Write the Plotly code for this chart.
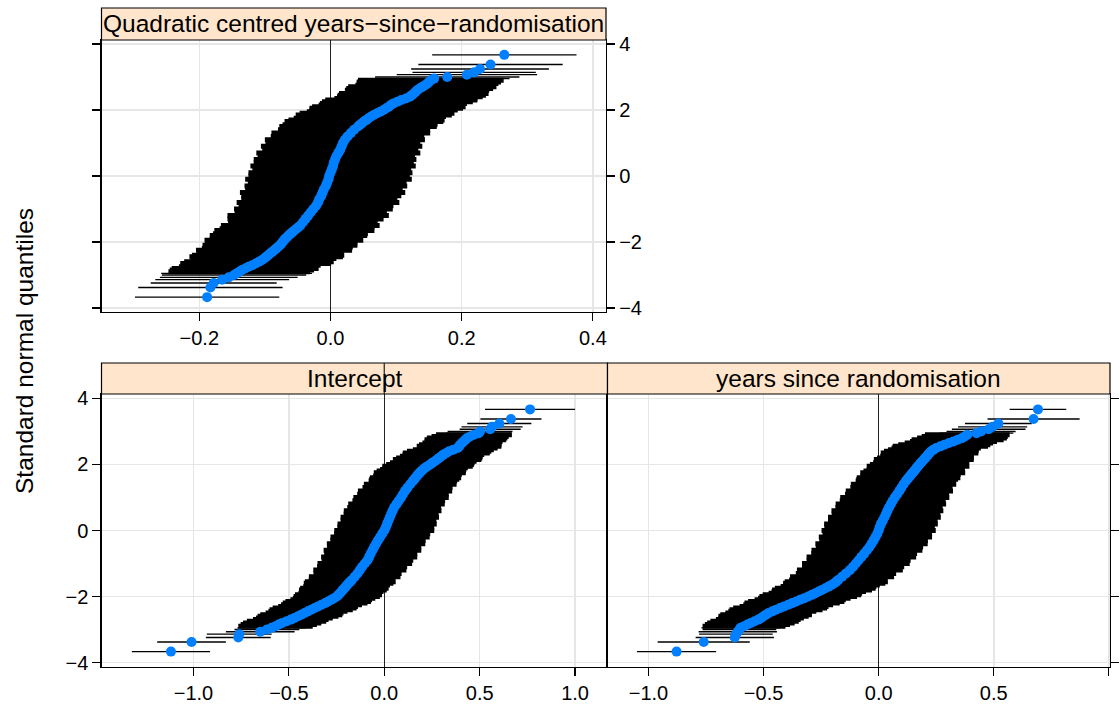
import plotly.graph_objects as go

W, H = 1120, 715

# ---------------- data ----------------
# standard normal quantiles (subsample of the ranked subjects, shared by all panels)
quantiles = [-3.67, -3.38, -3.24, -3.14, -3.07, -3.00, -2.95,
             -2.9, -2.8, -2.7, -2.6, -2.5, -2.4, -2.3, -2.2, -2.1, -2.0,
             -1.9, -1.8, -1.7, -1.6, -1.5, -1.4, -1.3, -1.2, -1.1, -1.0,
             -0.9, -0.8, -0.7, -0.6, -0.5, -0.4, -0.3, -0.2, -0.1, 0.0,
             0.1, 0.2, 0.3, 0.4, 0.5, 0.6, 0.7, 0.8, 0.9, 1.0,
             1.1, 1.2, 1.3, 1.4, 1.5, 1.6, 1.7, 1.8, 1.9, 2.0,
             2.1, 2.2, 2.3, 2.4, 2.5, 2.6, 2.7, 2.8, 2.9,
             2.95, 3.00, 3.07, 3.14, 3.24, 3.38, 3.67]
# further subjects in the flatter parts of the curves
quantiles_extra = [-2.85, -2.75, -2.65, -2.55, -2.45, -2.35, -2.25,
                   -2.15, -2.05, -1.95, -1.85, -1.75, -1.65, -1.55,
                   1.55, 1.65, 1.75, 1.85, 1.95, 2.05, 2.15,
                   2.25, 2.35, 2.45, 2.55, 2.65, 2.75, 2.85]

# Quadratic centred years-since-randomisation: conditional modes and interval half-widths
quad_x = [-0.188, -0.183, -0.178, -0.165, -0.155, -0.147, -0.143,
          -0.139, -0.130, -0.119, -0.109, -0.101, -0.095, -0.089, -0.083, -0.077, -0.073,
          -0.069, -0.064, -0.058, -0.052, -0.046, -0.042, -0.038, -0.034, -0.030, -0.026,
          -0.022, -0.019, -0.017, -0.014, -0.012, -0.010, -0.007, -0.005, -0.003, -0.002,
          0.000, 0.002, 0.004, 0.005, 0.007, 0.009, 0.012, 0.015, 0.017, 0.019,
          0.022, 0.026, 0.031, 0.036, 0.042, 0.048, 0.055, 0.062, 0.071, 0.081,
          0.089, 0.096, 0.108, 0.121, 0.127, 0.132, 0.140, 0.148, 0.153,
          0.158, 0.178, 0.208, 0.219, 0.228, 0.244, 0.265]
quad_half = [0.110, 0.110, 0.096, 0.102, 0.105, 0.110, 0.115,
             0.108, 0.112, 0.104, 0.114, 0.110, 0.116, 0.109, 0.113, 0.118, 0.111,
             0.115, 0.120, 0.113, 0.117, 0.121, 0.114, 0.119, 0.123, 0.116, 0.121,
             0.118, 0.124, 0.119, 0.122, 0.126, 0.120, 0.124, 0.121, 0.127, 0.123,
             0.125, 0.121, 0.126, 0.122, 0.124, 0.120, 0.125, 0.119, 0.123, 0.118,
             0.122, 0.117, 0.121, 0.116, 0.120, 0.115, 0.119, 0.114, 0.118, 0.113,
             0.117, 0.112, 0.116, 0.111, 0.114, 0.110, 0.113, 0.108, 0.111,
             0.115, 0.110, 0.107, 0.094, 0.105, 0.110, 0.110]
quad_x_extra = [-0.135, -0.125, -0.114, -0.105, -0.098, -0.092, -0.086,
                -0.080, -0.075, -0.071, -0.066, -0.061, -0.055, -0.049,
                0.045, 0.051, 0.058, 0.066, 0.076, 0.085, 0.092,
                0.102, 0.115, 0.124, 0.130, 0.136, 0.144, 0.150]
quad_half_extra = [0.110, 0.106, 0.115, 0.108, 0.117, 0.111, 0.119,
                   0.114, 0.116, 0.121, 0.113, 0.118, 0.122, 0.116,
                   0.118, 0.121, 0.114, 0.119, 0.112, 0.117, 0.110,
                   0.115, 0.109, 0.113, 0.107, 0.112, 0.106, 0.110]

# Intercept
int_x = [-1.118, -1.010, -0.765, -0.760, -0.650, -0.615, -0.590,
         -0.570, -0.535, -0.490, -0.452, -0.418, -0.383, -0.347, -0.310, -0.278, -0.249,
         -0.232, -0.217, -0.202, -0.187, -0.170, -0.155, -0.140, -0.128, -0.116, -0.102,
         -0.088, -0.079, -0.071, -0.062, -0.053, -0.043, -0.033, -0.022, -0.011, 0.000,
         0.008, 0.015, 0.022, 0.029, 0.036, 0.044, 0.052, 0.064, 0.076, 0.088,
         0.098, 0.109, 0.122, 0.136, 0.150, 0.164, 0.178, 0.194, 0.214, 0.240,
         0.265, 0.288, 0.310, 0.340, 0.385, 0.398, 0.416, 0.434, 0.470,
         0.495, 0.502, 0.555, 0.565, 0.603, 0.664, 0.764]
int_half = [0.205, 0.180, 0.170, 0.170, 0.180, 0.170, 0.180,
            0.195, 0.205, 0.198, 0.212, 0.204, 0.218, 0.209, 0.222, 0.214, 0.226,
            0.218, 0.230, 0.222, 0.235, 0.226, 0.240, 0.231, 0.244, 0.236, 0.248,
            0.240, 0.252, 0.244, 0.256, 0.247, 0.258, 0.250, 0.260, 0.252, 0.262,
            0.254, 0.260, 0.251, 0.258, 0.249, 0.256, 0.246, 0.253, 0.243, 0.250,
            0.240, 0.247, 0.236, 0.243, 0.232, 0.239, 0.228, 0.234, 0.224, 0.230,
            0.219, 0.226, 0.214, 0.221, 0.209, 0.216, 0.204, 0.211, 0.199,
            0.170, 0.170, 0.160, 0.160, 0.168, 0.160, 0.236]
int_x_extra = [-0.553, -0.512, -0.471, -0.435, -0.400, -0.365, -0.329,
               -0.294, -0.263, -0.240, -0.224, -0.209, -0.195, -0.178,
               0.157, 0.171, 0.186, 0.204, 0.227, 0.252, 0.277,
               0.299, 0.325, 0.362, 0.392, 0.407, 0.425, 0.450]
int_half_extra = [0.200, 0.208, 0.201, 0.215, 0.207, 0.220, 0.212,
                  0.224, 0.216, 0.228, 0.220, 0.232, 0.225, 0.238,
                  0.236, 0.229, 0.241, 0.226, 0.237, 0.222, 0.232,
                  0.217, 0.228, 0.212, 0.222, 0.207, 0.214, 0.202]

# years since randomisation
yrs_x = [-0.878, -0.760, -0.625, -0.620, -0.612, -0.605, -0.600,
         -0.585, -0.555, -0.523, -0.500, -0.478, -0.446, -0.411, -0.376, -0.341, -0.306,
         -0.275, -0.246, -0.218, -0.193, -0.176, -0.159, -0.142, -0.125, -0.111, -0.099,
         -0.087, -0.075, -0.063, -0.051, -0.040, -0.031, -0.022, -0.014, -0.006, 0.000,
         0.004, 0.010, 0.018, 0.025, 0.032, 0.038, 0.045, 0.053, 0.061, 0.070,
         0.080, 0.090, 0.099, 0.108, 0.118, 0.130, 0.142, 0.154, 0.165, 0.177,
         0.190, 0.203, 0.215, 0.228, 0.250, 0.285, 0.325, 0.362, 0.385,
         0.425, 0.445, 0.478, 0.495, 0.520, 0.673, 0.692]
yrs_half = [0.172, 0.200, 0.170, 0.160, 0.170, 0.160, 0.170,
            0.180, 0.190, 0.184, 0.196, 0.188, 0.202, 0.193, 0.207, 0.198, 0.212,
            0.203, 0.217, 0.208, 0.222, 0.213, 0.226, 0.218, 0.230, 0.222, 0.234,
            0.226, 0.238, 0.230, 0.241, 0.233, 0.244, 0.236, 0.246, 0.238, 0.248,
            0.240, 0.247, 0.238, 0.245, 0.236, 0.243, 0.233, 0.240, 0.230, 0.237,
            0.226, 0.233, 0.222, 0.229, 0.218, 0.225, 0.214, 0.220, 0.209, 0.215,
            0.204, 0.210, 0.199, 0.205, 0.194, 0.200, 0.189, 0.195, 0.184,
            0.160, 0.150, 0.160, 0.150, 0.145, 0.200, 0.123]
yrs_x_extra = [-0.570, -0.539, -0.511, -0.489, -0.462, -0.428, -0.393,
               -0.358, -0.323, -0.290, -0.260, -0.232, -0.205, -0.184,
               0.124, 0.136, 0.148, 0.160, 0.171, 0.183, 0.196,
               0.209, 0.221, 0.238, 0.268, 0.305, 0.343, 0.374]
yrs_half_extra = [0.185, 0.192, 0.186, 0.199, 0.191, 0.204, 0.195,
                  0.209, 0.201, 0.214, 0.205, 0.219, 0.210, 0.224,
                  0.221, 0.215, 0.228, 0.212, 0.223, 0.207, 0.217,
                  0.202, 0.212, 0.197, 0.207, 0.192, 0.200, 0.187]

strip_labels = ["Quadratic centred years\u2212since\u2212randomisation",
                "Intercept", "years since randomisation"]
quad_ticks = [-0.2, 0.0, 0.2, 0.4]
int_ticks = [-1.0, -0.5, 0.0, 0.5, 1.0]
yrs_ticks = [-1.0, -0.5, 0.0, 0.5, 1.0]
q_ticks = [-4, -2, 0, 2, 4]
y_title = "Standard normal quantiles"

# ---------------- figure ----------------
BLUE = "#0080ff"
GRID = "#e6e6e6"
FONT = "Liberation Sans, Arial, Helvetica, sans-serif"


def lab(v, nd=1):
    s = f"{abs(v):.{nd}f}"
    return ("\u2212" + s) if v < 0 else s


def lab_int(v):
    return ("\u2212" + str(abs(v))) if v < 0 else str(v)


fig = go.Figure()

all_q = quantiles + quantiles_extra
panels = [
    (quad_x + quad_x_extra, quad_half + quad_half_extra, "x", "y"),
    (int_x + int_x_extra, int_half + int_half_extra, "x2", "y2"),
    (yrs_x + yrs_x_extra, yrs_half + yrs_half_extra, "x3", "y3"),
]
for xs, hs, xa, ya in panels:
    dense = [i for i, q in enumerate(all_q) if abs(q) < 2.93]
    sparse = [i for i, q in enumerate(all_q) if abs(q) >= 2.93]
    for idx, thick in ((dense, 5), (sparse, 1.4)):
        fig.add_trace(go.Scatter(
            x=[xs[i] for i in idx], y=[all_q[i] for i in idx],
            mode="markers", marker=dict(size=1, color="rgba(0,0,0,0)"),
            error_x=dict(type="data", array=[hs[i] for i in idx], symmetric=True,
                         color="black", thickness=thick, width=0),
            xaxis=xa, yaxis=ya, hoverinfo="skip", showlegend=False))
    fig.add_trace(go.Scatter(
        x=xs, y=all_q, mode="markers",
        marker=dict(size=10, color=BLUE, line=dict(width=0)),
        xaxis=xa, yaxis=ya, hoverinfo="skip", showlegend=False))


def px(xp):
    return xp / W


def py(yp):
    return 1 - yp / H


axis_common = dict(showline=True, linecolor="black", linewidth=1.2,
                   ticks="outside", ticklen=8, tickwidth=1.2, tickcolor="black",
                   showgrid=True, gridcolor=GRID, gridwidth=1.5,
                   tickfont=dict(size=20, color="black", family=FONT),
                   fixedrange=True, automargin=False)

fig.update_layout(
    width=W, height=H,
    margin=dict(l=0, r=0, t=0, b=0, pad=0, autoexpand=False),
    paper_bgcolor="white", plot_bgcolor="white",
    font=dict(family=FONT, color="black"),
    showlegend=False,
    xaxis=dict(domain=[px(101.5), px(606)], anchor="y", range=[-0.349, 0.420],
               tickvals=quad_ticks, ticktext=[lab(v) for v in quad_ticks],
               mirror=True, zeroline=True, zerolinecolor="#222", zerolinewidth=1.2,
               **axis_common),
    yaxis=dict(domain=[py(312), py(40)], anchor="x", range=[-4.12, 4.12],
               side="right", mirror="ticks",
               tickvals=q_ticks, ticktext=[lab_int(v) for v in q_ticks],
               zeroline=False, **axis_common),
    xaxis2=dict(domain=[px(101.5), px(607.5)], anchor="y2", range=[-1.482, 1.170],
                tickvals=int_ticks, ticktext=[lab(v) for v in int_ticks],
                mirror=True, zeroline=True, zerolinecolor="#222", zerolinewidth=1.2,
                **axis_common),
    yaxis2=dict(domain=[py(667), py(394)], anchor="x2", range=[-4.136, 4.136],
                side="left", mirror=False,
                tickvals=q_ticks, ticktext=[lab_int(v) for v in q_ticks],
                zeroline=False, **axis_common),
    xaxis3=dict(domain=[px(607.5), px(1110)], anchor="y3", range=[-1.178, 1.005],
                tickvals=yrs_ticks,
                ticktext=[lab(v) for v in yrs_ticks[:-1]] + [""],
                mirror=True, zeroline=True, zerolinecolor="#222", zerolinewidth=1.2,
                **axis_common),
    yaxis3=dict(domain=[py(667), py(394)], anchor="x3", range=[-4.136, 4.136],
                side="right", mirror=True, showticklabels=False,
                tickvals=q_ticks, zeroline=False, **axis_common),
)

strips = [(101.5, 606, 8, 40), (101.5, 607.5, 363, 394), (607.5, 1110, 363, 394)]
shapes = []
annotations = []
for (x0, x1, y0, y1), text in zip(strips, strip_labels):
    shapes.append(dict(type="rect", xref="paper", yref="paper",
                       x0=px(x0), x1=px(x1), y0=py(y1), y1=py(y0),
                       fillcolor="#ffe5cc", line=dict(color="black", width=1.2),
                       layer="above"))
    annotations.append(dict(xref="paper", yref="paper",
                            x=px((x0 + x1) / 2), y=py((y0 + y1) / 2),
                            text=text, showarrow=False,
                            font=dict(size=24.5, color="black", family=FONT),
                            xanchor="center", yanchor="middle"))
# zero reference line of the Intercept panel continues through its strip
shapes.append(dict(type="line", xref="x2", yref="paper", x0=0, x1=0,
                   y0=py(394), y1=py(363), line=dict(color="#222", width=1.2),
                   layer="above"))
annotations.append(dict(xref="paper", yref="paper", x=px(24), y=py(351),
                        text=y_title, showarrow=False, textangle=-90,
                        font=dict(size=24.5, color="black", family=FONT),
                        xanchor="center", yanchor="middle"))
fig.update_layout(shapes=shapes, annotations=annotations)

fig.write_html("out.html", config=dict(displayModeBar=False, staticPlot=True))
